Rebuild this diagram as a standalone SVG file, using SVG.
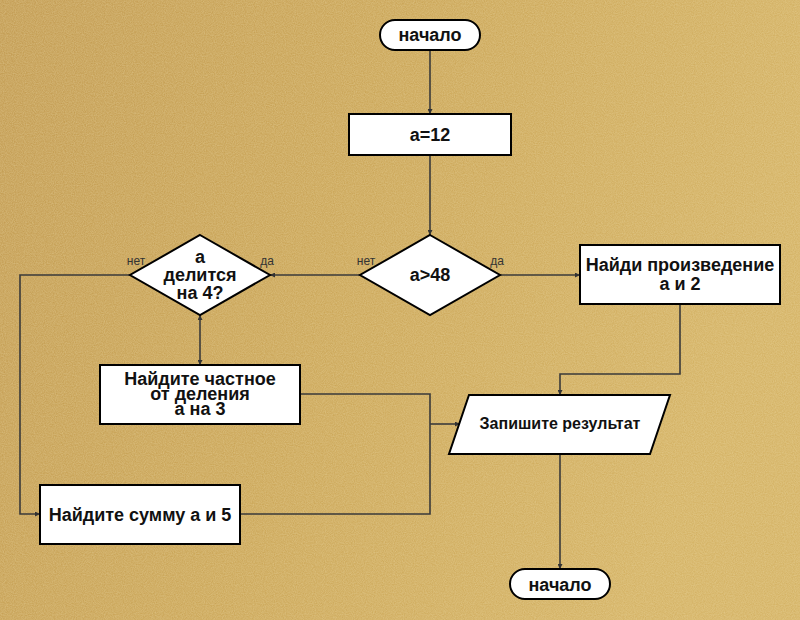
<svg xmlns="http://www.w3.org/2000/svg" width="800" height="620" viewBox="0 0 800 620">
<defs>
<linearGradient id="bg" x1="0" y1="0" x2="1" y2="0.3">
<stop offset="0" stop-color="#c29b52"/>
<stop offset="0.5" stop-color="#cba658"/>
<stop offset="1" stop-color="#d4b264"/>
</linearGradient>
<filter id="noise" x="0" y="0" width="100%" height="100%">
<feTurbulence type="fractalNoise" baseFrequency="0.9" numOctaves="2" seed="3" result="n"/>
<feColorMatrix type="matrix" values="0 0 0 0 0.95  0 0 0 0 0.85  0 0 0 0 0.55  0 0 0 0.4 -0.05"/>
</filter>
<marker id="arr" viewBox="0 0 10 10" refX="10" refY="5" markerWidth="5" markerHeight="5" orient="auto-start-reverse" markerUnits="userSpaceOnUse">
<path d="M0,0 L10,5 L0,10 z" fill="#333"/>
</marker>
<style>
.sh{fill:#fff;stroke:#000;stroke-width:2}
.t{font-family:"Liberation Sans",Arial,sans-serif;font-weight:bold;font-size:18px;fill:#111;text-anchor:middle}
.lb{font-family:"Liberation Sans",Arial,sans-serif;font-size:12px;fill:#333;text-anchor:middle}
.c{fill:none;stroke:#3a3a3a;stroke-width:1.6}
</style>
</defs>
<rect width="800" height="620" fill="url(#bg)"/>
<rect width="800" height="620" filter="url(#noise)"/>

<g id="connectors">
<path class="c" d="M430,50 V114" marker-end="url(#arr)"/>
<path class="c" d="M430,155 V235" marker-end="url(#arr)"/>
<path class="c" d="M360,275 H270" marker-end="url(#arr)"/>
<path class="c" d="M500,275 H580" marker-end="url(#arr)"/>
<path class="c" d="M680,304 V374 H560 V395" marker-end="url(#arr)"/>
<path class="c" d="M200,315 V365" marker-start="url(#arr)" marker-end="url(#arr)"/>
<path class="c" d="M300,394 H430 V514 H240"/>
<path class="c" d="M430,424 H460" marker-end="url(#arr)"/>
<path class="c" d="M130,275 H20 V514 H40" marker-end="url(#arr)"/>
<path class="c" d="M560,454 V569" marker-end="url(#arr)"/>
</g>

<g id="start">
<rect class="sh" x="380" y="20" width="100" height="30" rx="15"/>
<text class="t" x="430" y="41">начало</text>
</g>
<g id="assign">
<rect class="sh" x="349" y="114" width="162" height="41"/>
<text class="t" x="430" y="141">а=12</text>
</g>
<g id="cond1">
<polygon class="sh" points="430,235 500,275 430,315 360,275"/>
<text class="t" x="430" y="281">а&gt;48</text>
<text class="lb" x="366" y="265">нет</text>
<text class="lb" x="497" y="265">да</text>
</g>
<g id="cond2">
<polygon class="sh" points="200,235 270,275 200,315 130,275"/>
<text class="t" x="200" y="263">а</text>
<text class="t" x="200" y="281">делится</text>
<text class="t" x="200" y="299">на 4?</text>
<text class="lb" x="136" y="265">нет</text>
<text class="lb" x="267" y="265">да</text>
</g>
<g id="product">
<rect class="sh" x="580" y="245" width="200" height="59"/>
<text class="t" x="680" y="271">Найди произведение</text>
<text class="t" x="680" y="290">а и 2</text>
</g>
<g id="quotient">
<rect class="sh" x="100" y="365" width="200" height="59"/>
<text class="t" x="200" y="385">Найдите частное</text>
<text class="t" x="200" y="400">от деления</text>
<text class="t" x="200" y="415">а на 3</text>
</g>
<g id="sum">
<rect class="sh" x="40" y="485" width="200" height="59"/>
<text class="t" x="140" y="521">Найдите сумму а и 5</text>
</g>
<g id="output">
<polygon class="sh" points="469,395 670,395 650,454 449,454"/>
<text class="t" x="560" y="429" style="font-size:16px">Запишите результат</text>
</g>
<g id="end">
<rect class="sh" x="510" y="569" width="100" height="30" rx="15"/>
<text class="t" x="560" y="591">начало</text>
</g>
</svg>
